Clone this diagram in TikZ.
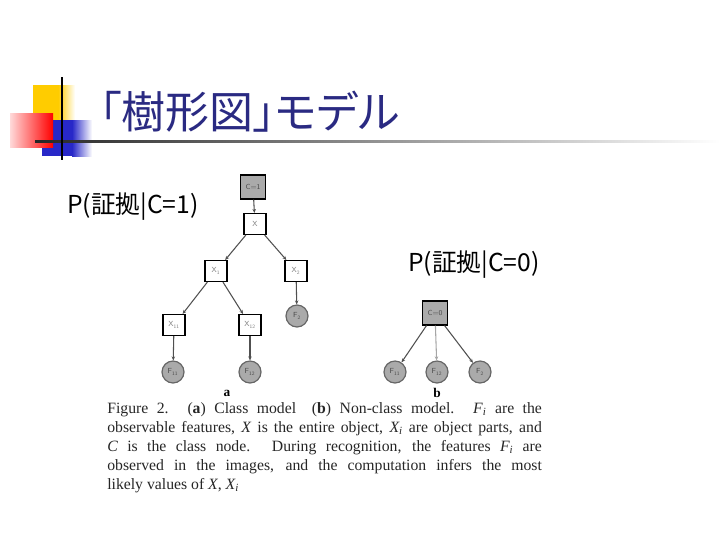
\documentclass[tikz,border=0pt]{standalone}
\usepackage{fontspec}
\setmainfont{Liberation Serif}
\newfontfamily\cjk{Noto Sans CJK JP}
\newfontfamily\cjktitle[RawFeature=+palt]{Noto Sans CJK JP}
\usetikzlibrary{arrows.meta}
\definecolor{titleblue}{RGB}{42,42,130}
\definecolor{nodegray}{RGB}{170,170,170}
\definecolor{edgegray}{RGB}{80,80,80}
\definecolor{decoyellow}{RGB}{255,204,0}
\definecolor{decoblue}{RGB}{40,40,200}
\tikzset{
  varbox/.style={draw=black, line width=0.8pt, fill=white, minimum width=16.5pt, minimum height=15.75pt, inner sep=0pt, font=\sffamily\fontsize{5.5}{5.5}\selectfont, text=gray},
  classbox/.style={varbox, fill=nodegray, minimum width=19pt, minimum height=18pt, text=black!70},
  feat/.style={circle, draw=black!60, line width=0.9pt, fill=nodegray, minimum size=16.5pt, inner sep=0pt, font=\sffamily\fontsize{5.5}{5.5}\selectfont, text=black!70},
  edge/.style={draw=edgegray, line width=0.8pt, -{Stealth[length=3pt,width=2.6pt]}},
  plabel/.style={font=\cjk\fontsize{18.5}{20}\selectfont, text=black, inner sep=0pt},
  sublabel/.style={font=\bfseries\fontsize{10}{10}\selectfont, inner sep=0pt}
}
\begin{document}
\begin{tikzpicture}[x=0.75pt, y=-0.75pt]
\useasboundingbox (0,0) rectangle (720,540);
% decoration
\fill[decoyellow] (33,85) rectangle (58,120);
\shade[left color=decoyellow, right color=white] (58,85) rectangle (75,120);
\fill[decoblue] (42,120) rectangle (72,156);
\shade[left color=decoblue, right color=white] (72,120) rectangle (92,156);
\shade[left color=red!15, right color=red] (10,113) rectangle (53,147);
\shade[left color=black!85, right color=white] (35,140.5) rectangle (720,142.5);
\draw[black, line width=1.6pt] (62,77) -- (62,160);
\node[font=\cjktitle\fontsize{33}{35}\selectfont, text=titleblue, anchor=west, inner sep=0pt] (title) at (99,112) {「樹形図」モデル};
% labels
\node[plabel, anchor=west] (p1) at (67,207) {P(証拠|C=1)};
\node[plabel, anchor=west] (p0) at (408,265) {P(証拠|C=0)};
% tree a
\node[classbox] (c1) at (253,187) {C=1};
\node[varbox] (x) at (255,224) {X};
\node[varbox] (x1) at (216,271) {X\textsubscript{1}};
\node[varbox] (x2) at (296,271) {X\textsubscript{2}};
\node[varbox] (x11) at (174,325) {X\textsubscript{11}};
\node[varbox] (x12) at (250,325) {X\textsubscript{12}};
\node[feat] (f2) at (297,316) {F\textsubscript{2}};
\node[feat] (f11) at (173,372) {F\textsubscript{11}};
\node[feat] (f12) at (250,372) {F\textsubscript{12}};
\draw[edge] (c1) -- (x);
\draw[edge] (x) -- (x1);
\draw[edge] (x) -- (x2);
\draw[edge] (x1) -- (x11);
\draw[edge] (x1) -- (x12);
\draw[edge] (x2) -- (f2);
\draw[edge] (x11) -- (f11);
\draw[edge] (x12) -- (f12);
\node[sublabel] (la) at (227,393) {a};
% tree b
\node[classbox] (c0) at (435,313) {C=0};
\node[feat] (bf11) at (395,372) {F\textsubscript{11}};
\node[feat] (bf12) at (437,372) {F\textsubscript{12}};
\node[feat] (bf2) at (480,372) {F\textsubscript{2}};
\draw[edge] (c0) -- (bf11);
\draw[edge, draw=gray!70] (c0) -- (bf12);
\draw[edge] (c0) -- (bf2);
\node[sublabel] (lb) at (437,393) {b};
% caption
\node[anchor=north west, inner sep=0pt, text width=326pt, align=justify, text=black!85,
      font=\fontsize{11.8}{14.25}\selectfont] (cap) at (107,402)
{Figure 2. (\textbf{a}) Class model\quad (\textbf{b}) Non-class model. \textit{F\textsubscript{i}} are the\linebreak
observable features, \textit{X} is the entire object, \textit{X\textsubscript{i}} are object parts, and\linebreak
\textit{C} is the class node. During recognition, the features \textit{F\textsubscript{i}} are\linebreak
observed in the images, and the computation infers the most\linebreak
likely values of \textit{X}, \textit{X\textsubscript{i}}};
\end{tikzpicture}
\end{document}
